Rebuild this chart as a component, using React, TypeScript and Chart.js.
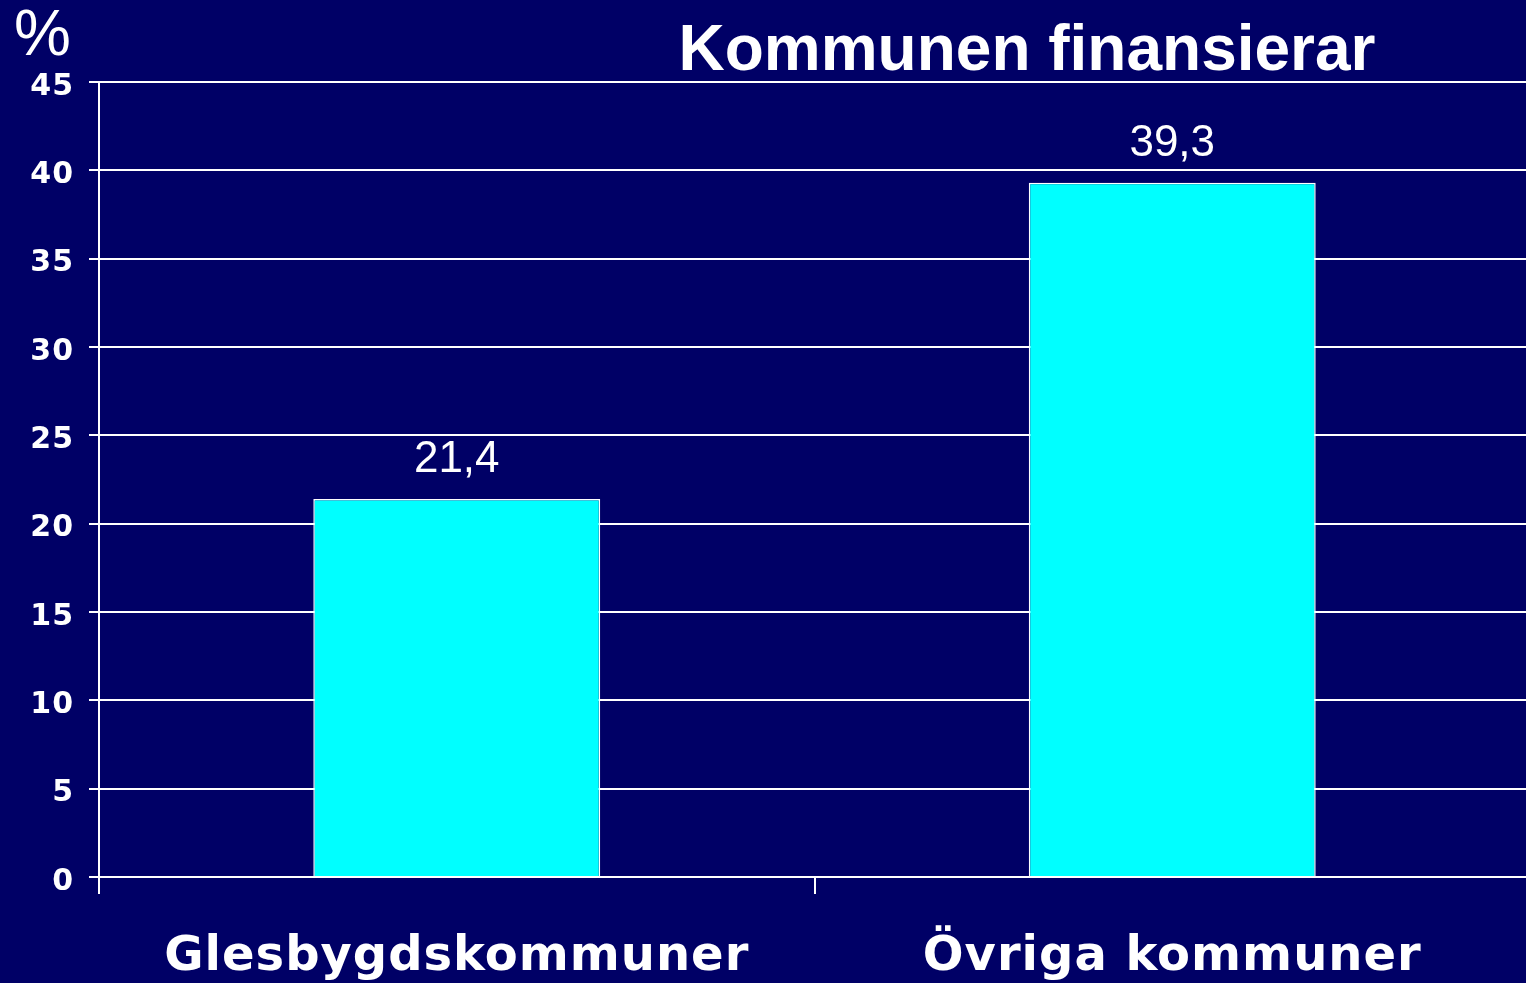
import React, { useEffect, useRef } from "react";
import { Chart, registerables } from "chart.js";

Chart.register(...registerables);

const categories: string[] = ["Glesbygdskommuner", "Övriga kommuner"];
const values: number[] = [21.4, 39.3];
const valueLabels: string[] = ["21,4", "39,3"];
const yMin = 0;
const yMax = 45;
const yStep = 5;
const titleText = "Kommunen finansierar";
const unitText = "%";

const BG = "#000066";
const FONT = "'Liberation Sans', Arial, sans-serif";
const TICK_FONT = "'DejaVu Sans', sans-serif";

const spacingPlugin = {
  id: "spacing",
  beforeUpdate(chart: any) {
    (chart.ctx as any).letterSpacing = "1px";
  },
  beforeDraw(chart: any) {
    (chart.ctx as any).letterSpacing = "1px";
  },
};

const overlayPlugin = {
  id: "overlay",
  afterDatasetsDraw(chart: any) {
    const ctx = chart.ctx;
    ctx.save();
    (ctx as any).letterSpacing = "0px";
    ctx.fillStyle = "#ffffff";
    ctx.textAlign = "center";
    ctx.textBaseline = "alphabetic";
    ctx.font = `44px ${FONT}`;
    const meta = chart.getDatasetMeta(0);
    meta.data.forEach((bar: any, i: number) => {
      ctx.fillText(valueLabels[i], bar.x, bar.y - 27);
    });
    ctx.font = `bold 64px ${FONT}`;
    ctx.fillText(titleText, 1027, 70);
    ctx.textAlign = "left";
    ctx.font = `64px ${FONT}`;
    ctx.fillText(unitText, 14, 55);
    ctx.restore();
    (ctx as any).letterSpacing = "1px";
  },
};

export default function App() {
  const ref = useRef<HTMLCanvasElement>(null);
  useEffect(() => {
    if (!ref.current) return;
    const chart = new Chart(ref.current, {
      type: "bar",
      data: {
        labels: categories,
        datasets: [
          {
            data: values,
            backgroundColor: "#00ffff",
            borderColor: "#ffffff",
            borderWidth: 1.5,
            barPercentage: 0.401,
            categoryPercentage: 1,
          },
        ],
      },
      options: {
        responsive: false,
        devicePixelRatio: 1,
        animation: false,
        layout: { padding: { top: 82, right: 0, left: 0, bottom: 0 } },
        plugins: {
          legend: { display: false },
          tooltip: { enabled: false },
          title: { display: false },
        },
        scales: {
          x: {
            offset: true,
            afterFit: (s: any) => {
              s.height = 106;
            },
            grid: {
              offset: true,
              drawOnChartArea: false,
              drawTicks: true,
              tickLength: 17,
              color: "#ffffff",
              lineWidth: 2,
            },
            border: { display: true, color: "#ffffff", width: 2 },
            ticks: {
              color: "#ffffff",
              font: { family: TICK_FONT, size: 48, weight: "bold" },
              padding: 35,
              maxRotation: 0,
              autoSkip: false,
            },
          },
          y: {
            min: yMin,
            max: yMax,
            afterFit: (s: any) => {
              s.width = 99;
            },
            grid: {
              color: "#ffffff",
              lineWidth: 2,
              tickLength: 10,
              drawTicks: true,
            },
            border: { display: true, color: "#ffffff", width: 2 },
            ticks: {
              stepSize: yStep,
              color: "#ffffff",
              font: { family: TICK_FONT, size: 30, weight: "bold" },
              padding: 15,
              labelOffset: 5,
            },
          },
        },
      },
      plugins: [spacingPlugin, overlayPlugin],
    });
    return () => chart.destroy();
  }, []);
  return (
    <div
      style={{
        position: "fixed",
        left: 0,
        top: 0,
        width: 1526,
        height: 983,
        background: BG,
        overflow: "hidden",
      }}
    >
      <canvas ref={ref} width={1530} height={983} style={{ display: "block" }} />
    </div>
  );
}
